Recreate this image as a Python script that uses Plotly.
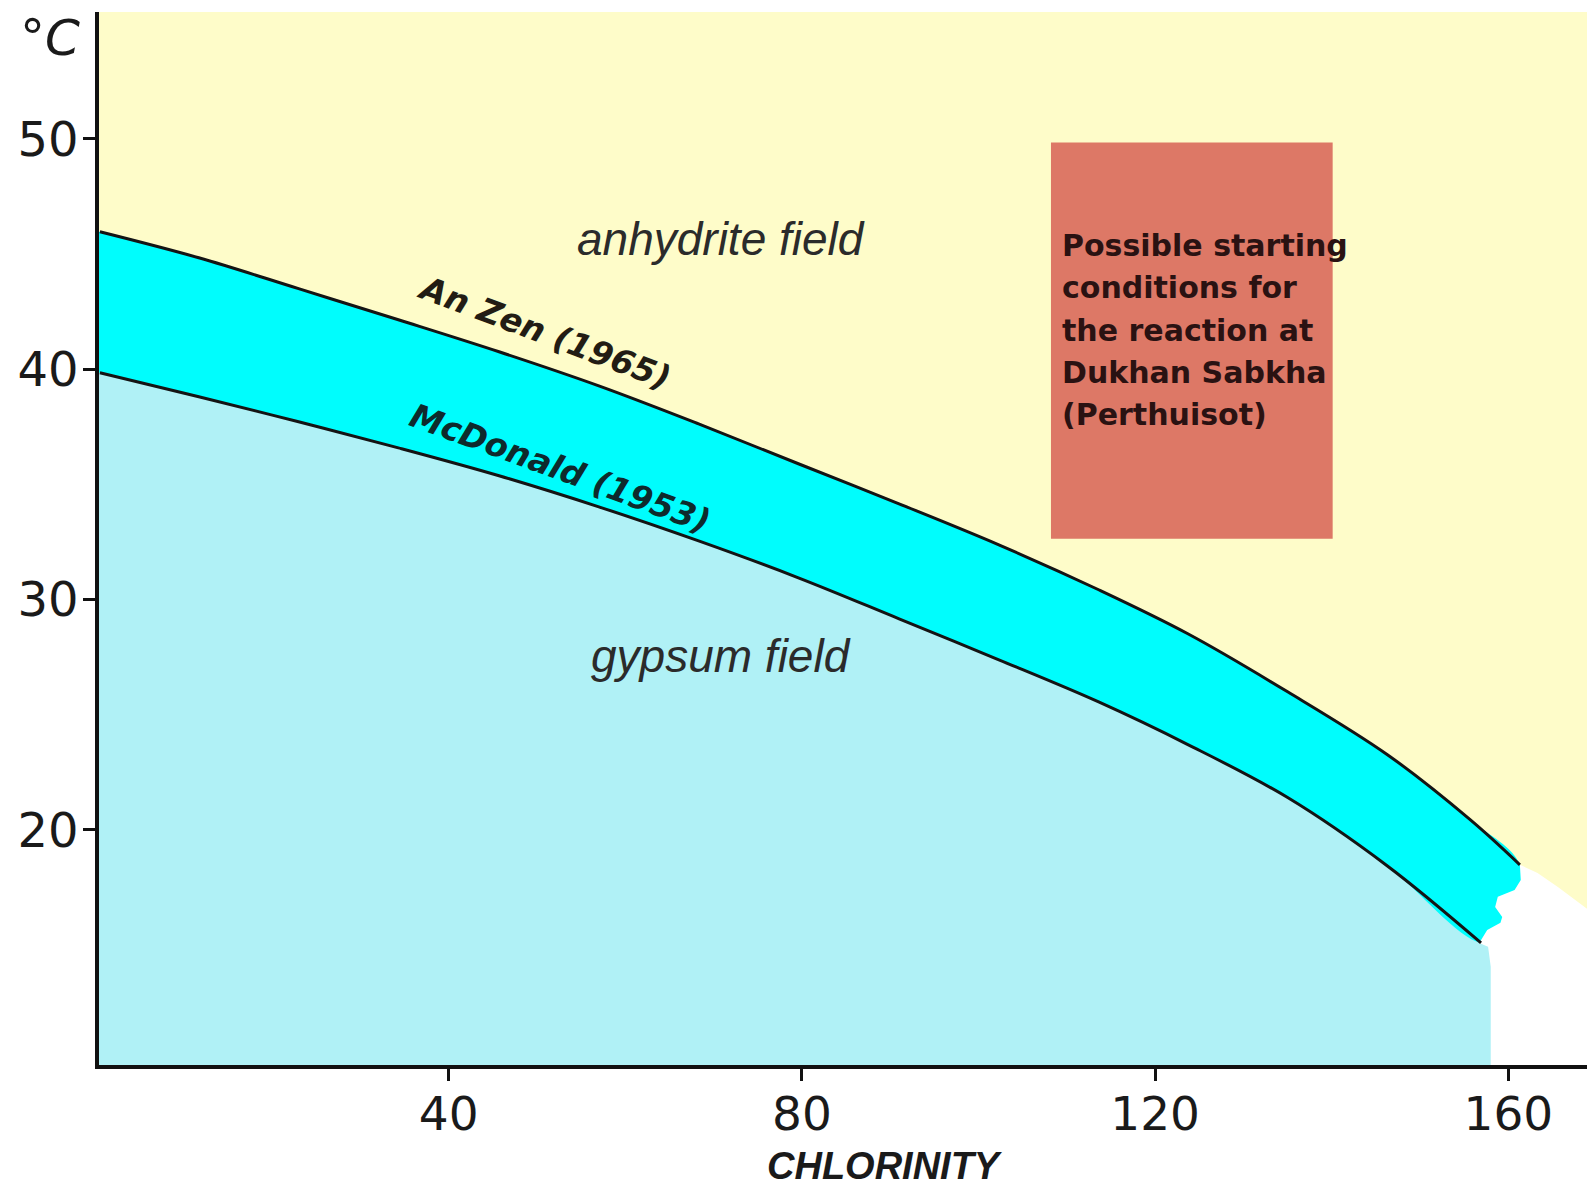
import plotly.graph_objects as go

# ---- data ----
anzen_x = [0.5, 11.7, 23.0, 34.3, 45.7, 57.0, 68.3, 79.6, 91.0, 102.3, 113.6, 123.7, 135.0, 146.3, 155.7, 161.3]
anzen_y = [45.96, 44.83, 43.49, 42.14, 40.75, 39.27, 37.62, 35.89, 34.15, 32.37, 30.42, 28.51, 25.99, 23.26, 20.43, 18.48]

mcd_x = [0.5, 11.7, 23.0, 34.3, 45.7, 57.0, 68.3, 79.6, 91.0, 102.3, 113.6, 123.7, 135.0, 146.3, 156.9]
mcd_y = [39.84, 38.80, 37.71, 36.58, 35.37, 34.02, 32.54, 30.94, 29.16, 27.38, 25.55, 23.70, 21.40, 18.43, 15.09]

# ragged blank (erased) patch at the right end of the curves
blank_x = [161.3, 163.3, 165.6, 169.5, 169.5, 158.0, 158.0, 157.7, 156.7, 157.6, 159.1, 159.3, 158.5, 158.8, 160.7, 161.4, 161.3]
blank_y = [18.48, 18.13, 17.52, 16.4, 9.0, 9.0, 14.05, 14.92, 15.09, 15.65, 15.96, 16.22, 16.65, 17.09, 17.39, 17.82, 18.48]

# box of possible starting conditions
box_x = [108.2, 140.1]
box_y = [32.63, 49.83]
box_lines = ["Possible starting", "conditions for", "the reaction at", "Dukhan Sabkha", "(Perthuisot)"]
box_line_y = [45.35, 43.53, 41.66, 39.84, 38.02]
box_text_x = 109.2

x_ticks = [40, 80, 120, 160]
y_ticks = [20, 30, 40, 50]
x_range = [0.4, 168.9]
y_range = [9.79, 55.5]

YELLOW = "#FEFCC9"
CYAN = "#00FDFD"
LIGHT_CYAN = "#B0F1F6"
BOX = "#DD7866"

W, H = 1587, 1190
ml, mr, mt, mb = 99, 0, 12, 125
pw, ph = W - ml - mr, H - mt - mb

fig = go.Figure()

SM = 1.0
# gypsum field (below McDonald curve)
fig.add_trace(go.Scatter(
    x=[x_range[0] - 1] + mcd_x + [160.0, 160.0, x_range[0] - 1],
    y=[mcd_y[0]] + mcd_y + [14.6, y_range[0] - 1, y_range[0] - 1],
    fill="toself", fillcolor=LIGHT_CYAN, mode="lines", line=dict(width=0, shape="spline", smoothing=SM),
    hoverinfo="skip", showlegend=False))

# band between the two curves
fig.add_trace(go.Scatter(
    x=[x_range[0] - 1] + anzen_x + [160.5] + mcd_x[::-1] + [x_range[0] - 1],
    y=[anzen_y[0]] + anzen_y + [15.5] + mcd_y[::-1] + [mcd_y[0]],
    fill="toself", fillcolor=CYAN, mode="lines", line=dict(width=0, shape="spline", smoothing=SM),
    hoverinfo="skip", showlegend=False))

# blank patch
fig.add_trace(go.Scatter(
    x=blank_x, y=blank_y, fill="toself", fillcolor="white", mode="none",
    hoverinfo="skip", showlegend=False))

# curves
fig.add_trace(go.Scatter(x=anzen_x, y=anzen_y, mode="lines",
                         line=dict(color="#141414", width=3, shape="spline", smoothing=SM),
                         hoverinfo="skip", showlegend=False))
fig.add_trace(go.Scatter(x=mcd_x, y=mcd_y, mode="lines",
                         line=dict(color="#141414", width=3, shape="spline", smoothing=SM),
                         hoverinfo="skip", showlegend=False))

# red box
fig.add_shape(type="rect", x0=box_x[0], x1=box_x[1], y0=box_y[0], y1=box_y[1],
              xref="x", yref="y", fillcolor=BOX, line=dict(width=0), layer="above")

for txt, yy in zip(box_lines, box_line_y):
    fig.add_annotation(x=box_text_x, y=yy, xref="x", yref="y", text=txt, showarrow=False,
                       xanchor="left", yanchor="middle",
                       font=dict(family="DejaVu Sans", size=30, color="#2a1212", weight="bold"))

# field labels
fig.add_annotation(x=70.8, y=45.66, text="<i>anhydrite field</i>", showarrow=False,
                   xanchor="center", yanchor="middle",
                   font=dict(family="Liberation Sans", size=46, color="#2b2b2b"))
fig.add_annotation(x=70.8, y=27.55, text="<i>gypsum field</i>", showarrow=False,
                   xanchor="center", yanchor="middle",
                   font=dict(family="Liberation Sans", size=46, color="#2b2b2b"))

# curve labels
fig.add_annotation(x=50.9, y=41.6, text="<b><i>An Zen (1965)</i></b>", showarrow=False,
                   textangle=20.6, xanchor="center", yanchor="middle",
                   font=dict(family="DejaVu Sans", size=33, color="#221c14"))
fig.add_annotation(x=52.7, y=35.7, text="<b><i>McDonald (1953)</i></b>", showarrow=False,
                   textangle=20.1, xanchor="center", yanchor="middle",
                   font=dict(family="DejaVu Sans", size=33, color="#0e2a2c"))

# unit label and axis title (pixel positions -> paper coordinates)
def px2paper(px, py):
    return (px - ml) / pw, (H - mb - py) / ph

ux, uy = px2paper(50, 38)
fig.add_annotation(x=ux, y=uy, xref="paper", yref="paper", text="°<i>C</i>", showarrow=False,
                   xanchor="center", yanchor="middle",
                   font=dict(family="DejaVu Sans", size=50, color="#1a1a1a"))
cx, cy = px2paper(885, 1166)
fig.add_annotation(x=cx, y=cy, xref="paper", yref="paper", text="<b><i>CHLORINITY</i></b>",
                   showarrow=False, xanchor="center", yanchor="middle",
                   font=dict(family="Liberation Sans", size=38, color="#1a1a1a"))

fig.update_xaxes(range=x_range, tickvals=x_ticks, ticktext=[str(v) for v in x_ticks],
                 showline=True, linecolor="#111", linewidth=3.5, mirror=False,
                 ticks="outside", ticklen=12, tickwidth=3, tickcolor="#111",
                 showgrid=False, zeroline=False, ticklabelstandoff=-7,
                 tickfont=dict(family="DejaVu Sans", size=47, color="#1a1a1a"))
fig.update_yaxes(range=y_range, tickvals=y_ticks, ticktext=[str(v) for v in y_ticks],
                 showline=True, linecolor="#111", linewidth=3.5, mirror=False,
                 ticks="outside", ticklen=12, tickwidth=3, tickcolor="#111",
                 showgrid=False, zeroline=False, ticklabelstandoff=-5,
                 tickfont=dict(family="DejaVu Sans", size=48, color="#1a1a1a"))

fig.update_layout(width=W, height=H, margin=dict(l=ml, r=mr, t=mt, b=mb),
                  plot_bgcolor=YELLOW, paper_bgcolor="white", showlegend=False)

fig.write_html("out.html", config={"displayModeBar": False},
               post_script="document.body.style.margin='0';document.body.style.overflow='hidden';")
